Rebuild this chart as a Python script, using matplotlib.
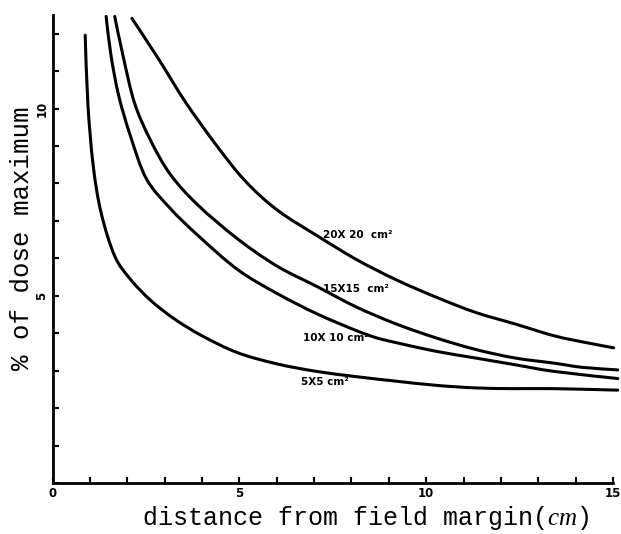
import matplotlib
matplotlib.use("Agg")
import matplotlib.pyplot as plt
from matplotlib.ticker import MultipleLocator, FixedLocator
from matplotlib.path import Path
from matplotlib.patches import PathPatch

plt.rcParams['mathtext.fontset'] = 'custom'
plt.rcParams['mathtext.it'] = 'Liberation Serif:italic'
plt.rcParams['mathtext.rm'] = 'Liberation Mono'

# Data (distance in cm, % of dose maximum)
x_5 = [0.87, 0.94, 1.08, 1.29, 1.66, 2.09, 2.62, 3.26, 4.0, 4.95, 6.01, 7.07, 8.13, 9.19, 10.25, 11.31, 12.37, 13.43, 15.13]
y_5 = [11.96, 10.15, 8.51, 7.24, 6.06, 5.43, 4.88, 4.38, 3.93, 3.48, 3.18, 2.98, 2.84, 2.72, 2.61, 2.54, 2.52, 2.52, 2.48]

x_10 = [1.43, 1.56, 1.77, 2.09, 2.51, 3.15, 3.89, 4.95, 6.01, 7.07, 8.13, 8.66, 9.19, 10.25, 11.31, 12.37, 13.43, 15.13]
y_10 = [12.46, 11.42, 10.33, 9.24, 8.12, 7.33, 6.61, 5.70, 5.06, 4.52, 4.07, 3.88, 3.75, 3.52, 3.34, 3.16, 2.98, 2.79]

x_15 = [1.66, 1.88, 2.19, 2.62, 3.15, 3.89, 4.95, 6.01, 7.07, 8.13, 9.19, 10.25, 11.31, 12.37, 13.43, 14.17, 15.13]
y_15 = [12.46, 11.42, 10.15, 9.15, 8.24, 7.42, 6.52, 5.79, 5.25, 4.70, 4.25, 3.88, 3.57, 3.34, 3.20, 3.09, 3.02]

x_20 = [2.12, 2.83, 3.57, 4.42, 5.16, 6.01, 7.07, 8.13, 9.19, 10.25, 11.31, 12.37, 13.43, 14.28, 15.02]
y_20 = [12.41, 11.33, 10.15, 8.97, 8.06, 7.29, 6.61, 5.97, 5.43, 4.97, 4.56, 4.25, 3.93, 3.75, 3.61]

curve_labels = ["5X5 cm²", "10X 10 cm²", "15X15  cm²", "20X 20  cm²"]
label_x = [6.65, 6.70, 7.23, 7.23]
label_y = [2.70, 3.88, 5.17, 6.62]

x_tick_labels = ["0", "5", "10", "15"]
y_tick_labels = ["5", "10"]


def smooth_path(xs, ys):
    """Catmull-Rom curve through the points, drawn as cubic Bezier segments."""
    pts = list(zip(xs, ys))
    n = len(pts)
    verts = [pts[0]]
    codes = [Path.MOVETO]
    for i in range(n - 1):
        p0 = pts[i - 1] if i > 0 else pts[i]
        p1 = pts[i]
        p2 = pts[i + 1]
        p3 = pts[i + 2] if i + 2 < n else pts[i + 1]
        c1 = (p1[0] + (p2[0] - p0[0]) / 6.0, p1[1] + (p2[1] - p0[1]) / 6.0)
        c2 = (p2[0] - (p3[0] - p1[0]) / 6.0, p2[1] - (p3[1] - p1[1]) / 6.0)
        verts += [c1, c2, p2]
        codes += [Path.CURVE4, Path.CURVE4, Path.CURVE4]
    return Path(verts, codes)


fig = plt.figure(figsize=(6.21, 5.34), dpi=100)
ax = fig.add_axes([0.0849, 0.0955, 0.9111, 0.8765])

for xs, ys in [(x_5, y_5), (x_10, y_10), (x_15, y_15), (x_20, y_20)]:
    patch = PathPatch(smooth_path(xs, ys), facecolor='none', edgecolor='black',
                      lw=2.2, capstyle='round', joinstyle='round', clip_on=False)
    ax.add_patch(patch)

for t, lx, ly in zip(curve_labels, label_x, label_y):
    ax.text(lx, ly, t, fontsize=7.5, fontweight='bold', family='DejaVu Sans',
            ha='left', va='center', color='black')

ax.set_xlim(0, 15.15)
ax.set_ylim(0, 12.5)
for s in ['top', 'right']:
    ax.spines[s].set_visible(False)
ax.spines['bottom'].set_bounds(0, 15)
ax.spines['left'].set_linewidth(2.0)
ax.spines['bottom'].set_linewidth(2.0)

ax.xaxis.set_major_locator(FixedLocator([0, 5, 10, 15]))
ax.xaxis.set_minor_locator(MultipleLocator(1))
ax.yaxis.set_major_locator(FixedLocator([5, 10]))
ax.yaxis.set_minor_locator(MultipleLocator(1))
ax.set_xticklabels(x_tick_labels)
ax.set_yticklabels(y_tick_labels, rotation=90, va='center')
ax.tick_params(which='both', direction='in', length=4, width=1.5, color='black')
ax.tick_params(axis='both', labelsize=8.5, pad=3)
for lab in ax.get_xticklabels() + ax.get_yticklabels():
    lab.set_fontweight('bold')

fig.text(0.589, 0.030, r"distance from field margin($cm$)", family='Liberation Mono',
         fontsize=18, ha='center', va='center')
fig.text(0.035, 0.554, "% of dose maximum", family='Liberation Mono',
         fontsize=18.5, ha='center', va='center', rotation=90)

fig.savefig("out.png", dpi=100)
